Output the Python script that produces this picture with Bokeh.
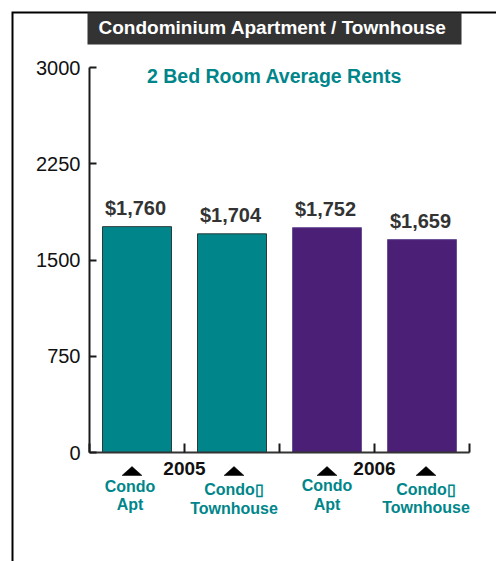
from bokeh.plotting import figure
from bokeh.models import Range1d, LinearAxis, FixedTicker
from bokeh.core.properties import value
from bokeh.embed import file_html
from bokeh.resources import INLINE

# ---------------- data ----------------
title_text = "Condominium Apartment / Townhouse"
subtitle_text = "2 Bed Room Average Rents"
years = ["2005", "2006"]
categories = ["Condo\nApt", "Condo\u25af\nTownhouse", "Condo\nApt", "Condo\u25af\nTownhouse"]
rents = [1760, 1704, 1752, 1659]
rent_labels = ["$1,760", "$1,704", "$1,752", "$1,659"]
y_ticks = [0, 750, 1500, 2250, 3000]

# ---------------- layout (pixels) ----------------
W, H = 496, 561
n = len(rents)
X0_PX, X1_PX = 89, 469      # pixel of x=0 and x=n
Y0_PX, Y1_PX = 452, 67      # pixel of y=0 and y=3000
YMAX = 3000
px_per_x = (X1_PX - X0_PX) / n
px_per_y = (Y0_PX - Y1_PX) / YMAX
TXT_SHIFT = 8  # baseline correction


def dx(px):
    return (px - X0_PX) / px_per_x


def dy(py):
    return (Y0_PX - py) / px_per_y


TEAL = "#00868A"
PURPLE = "#4B1F76"
bar_fill = [TEAL, TEAL, PURPLE, PURPLE]
bar_line = ["#2b3b3b", "#2b3b3b", "#6b4f96", "#6b4f96"]
tri_dx = [-5, 2, 0, 4]
lab_dx = [-7, 2, 0, 4]
line1_off = [42, 45, 41, 45]
line2_off = [60, 64, 60, 63]

FONT = "Liberation Sans"

p = figure(width=W, height=H, output_backend="svg", toolbar_location=None,
           x_axis_type=None, y_axis_type=None, title=None,
           x_range=Range1d(dx(0), dx(W)), y_range=Range1d(dy(H), dy(0)),
           min_border=0, min_border_left=0, min_border_right=0,
           min_border_top=0, min_border_bottom=0,
           outline_line_color=None, background_fill_color="white",
           border_fill_color="white")

# outer frame lines
p.line(x=[dx(12), dx(12), dx(W)], y=[dy(H), dy(12), dy(12)],
       line_width=2, line_color="black", line_join="miter")

# title box
p.quad(left=[dx(87)], right=[dx(461)], top=[dy(12)], bottom=[dy(44)],
       fill_color="#333333", line_color=None)
p.text(x=[dx(272)], y=[dy(35 - TXT_SHIFT)], text=[title_text], text_align="center",
       text_baseline="alphabetic", text_font=value(FONT), text_font_style="bold",
       text_font_size="19px", text_color="white")

# subtitle
p.text(x=[dx(274)], y=[dy(83 - TXT_SHIFT)], text=[subtitle_text], text_align="center",
       text_baseline="alphabetic", text_font=value(FONT), text_font_style="bold",
       text_font_size="19.5px", text_color=TEAL)

# axes
yaxis = LinearAxis(fixed_location=0, bounds=(0, YMAX),
                   ticker=FixedTicker(ticks=y_ticks, minor_ticks=[]),
                   major_tick_in=7, major_tick_out=0, minor_tick_in=0, minor_tick_out=0,
                   axis_line_width=2, axis_line_color="#1a1a1a",
                   major_tick_line_width=2, major_tick_line_color="#1a1a1a",
                   major_label_standoff=9, major_label_text_font=FONT,
                   major_label_text_font_size="20px", major_label_text_color="#111111")
p.add_layout(yaxis, "left")

xaxis = LinearAxis(fixed_location=0, bounds=(0, n),
                   ticker=FixedTicker(ticks=list(range(n + 1)), minor_ticks=[]),
                   major_tick_in=9, major_tick_out=0, minor_tick_in=0, minor_tick_out=0,
                   axis_line_width=2, axis_line_color="#333333",
                   major_tick_line_width=2, major_tick_line_color="#1a1a1a",
                   major_label_text_color=None)
p.add_layout(xaxis, "below")

# bars
xs = [i + 0.5 for i in range(n)]
p.vbar(x=xs, top=rents, bottom=0, width=69 / px_per_x,
       fill_color=bar_fill, line_color=bar_line, line_width=1)

# value labels
p.text(x=xs, y=rents, text=rent_labels, text_align="center", text_baseline="alphabetic",
       y_offset=-11 - TXT_SHIFT, x_offset=-1.5, text_font=value(FONT), text_font_style="bold",
       text_font_size="20px", text_color="#333333")

# year labels (between the pair of bars of each year)
year_x = [2 * j + 1 for j in range(len(years))]
p.text(x=year_x, y=[0] * len(years), text=years, text_align="center",
       text_baseline="alphabetic", y_offset=24 - TXT_SHIFT, text_font=value(FONT),
       text_font_style="bold", text_font_size="19px", text_color="#111111")

# triangles pointing to each bar
tri_xs, tri_ys = [], []
for i in range(n):
    cx = X0_PX + xs[i] * px_per_x + tri_dx[i]
    tri_xs.append([dx(cx - 10), dx(cx + 10), dx(cx)])
    tri_ys.append([dy(475), dy(475), dy(466)])
p.patches(xs=tri_xs, ys=tri_ys, fill_color="black", line_color="black", line_width=0.5)

# category labels
line1 = [c.split("\n")[0] for c in categories]
line2 = [c.split("\n")[1] for c in categories]
p.text(x=xs, y=[0] * n, text=line1, text_align="center", text_baseline="alphabetic",
       x_offset=lab_dx, y_offset=[o - TXT_SHIFT for o in line1_off], text_font=value(FONT),
       text_font_style="bold", text_font_size="16px", text_color=TEAL)
p.text(x=xs, y=[0] * n, text=line2, text_align="center", text_baseline="alphabetic",
       x_offset=lab_dx, y_offset=[o - TXT_SHIFT for o in line2_off], text_font=value(FONT),
       text_font_style="bold", text_font_size="16px", text_color=TEAL)

open("out.html", "w").write(file_html(p, INLINE))
